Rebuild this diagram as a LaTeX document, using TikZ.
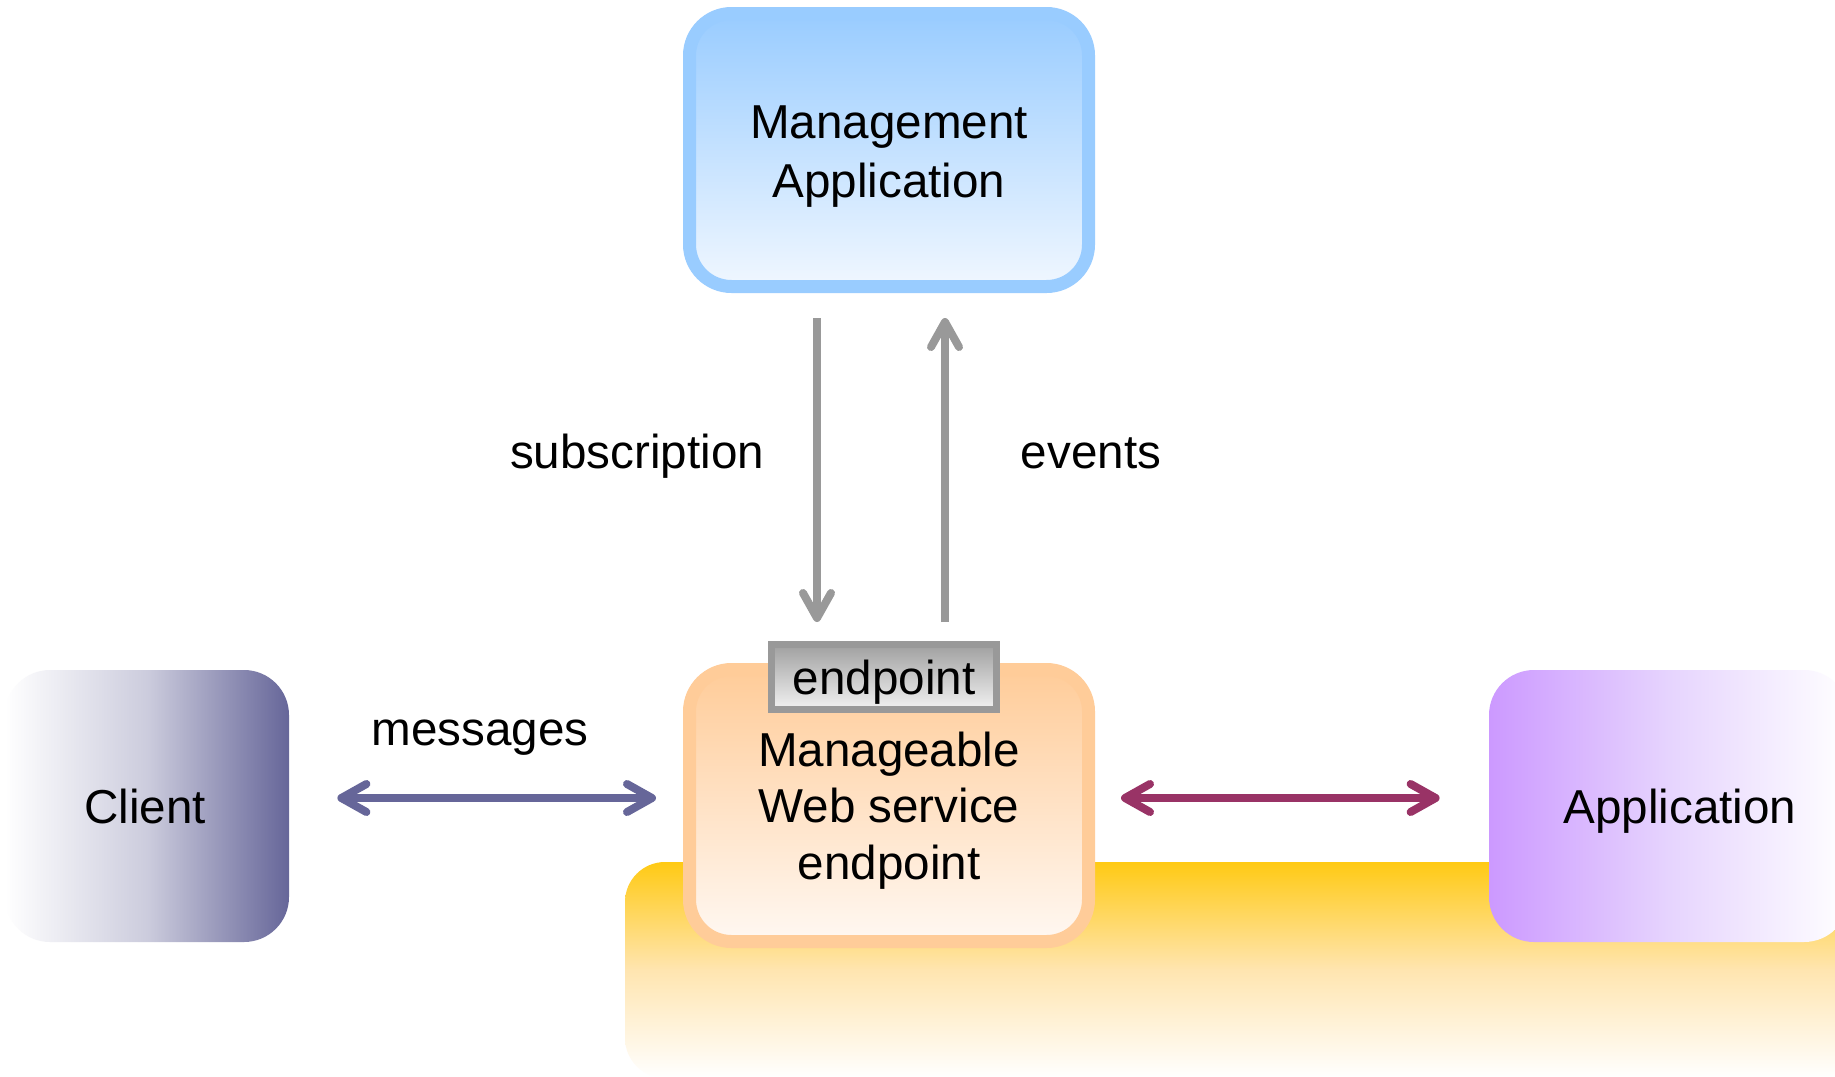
\documentclass[tikz,border=0pt]{standalone}
\usepackage{fontspec}
\setmainfont{Liberation Sans}
\usetikzlibrary{arrows.meta}

\definecolor{mgmtBorder}{HTML}{99CCFF}
\definecolor{mgmtLight}{HTML}{F0F7FF}
\definecolor{wsBorder}{HTML}{FFCC99}
\definecolor{wsLight}{HTML}{FFF8F2}
\definecolor{tabBorder}{HTML}{999999}
\definecolor{tabTop}{HTML}{A0A0A0}
\definecolor{tabBottom}{HTML}{F2F2F2}
\definecolor{clientDark}{HTML}{666699}
\definecolor{clientMid}{HTML}{CCCCDD}
\definecolor{appPurple}{HTML}{CC99FF}
\definecolor{appMid}{HTML}{E6D4FE}
\definecolor{gold}{HTML}{FFCA14}
\definecolor{goldMid}{HTML}{FFE5B0}
\definecolor{arrowGray}{HTML}{999999}
\definecolor{msgBlue}{HTML}{666699}
\definecolor{appRed}{HTML}{993366}

\tikzset{
  bigbox/.style={draw, line width=6.5pt, rounded corners=21pt,
    minimum width=199.5pt, minimum height=136.5pt, inner sep=0pt},
  sidebox/.style={rounded corners=22.5pt, minimum height=136pt, inner sep=0pt},
  txt/.style={font=\fontsize{23.8pt}{28pt}\selectfont, inner sep=0pt, anchor=base},
  barb/.tip={Straight Barb[length=12.5pt, width=14pt, round]},
  flow/.style={line width=4pt},
}

\begin{document}
\begin{tikzpicture}[x=0.5pt, y=-0.5pt]
  \useasboundingbox (0,0) rectangle (1835,1076);
  \clip (0,0) rectangle (1835,1076);
  \fill[white] (0,0) rectangle (1835,1076);

  % golden platform behind the service endpoint and the application
  \shade[rounded corners=20pt, top color=gold, bottom color=white, middle color=goldMid]
    (625,862) rectangle (1880,1078);

  % side participants
  \node[sidebox, minimum width=142pt, shade, left color=white, right color=clientDark,
        middle color=clientMid] (client) at (147,806) {};
  \node[sidebox, minimum width=180pt, shade, left color=appPurple, right color=white,
        middle color=appMid] (app) at (1669,806) {};

  % management application
  \node[bigbox, draw=mgmtBorder, shade, top color=mgmtBorder, bottom color=mgmtLight]
    (mgmt) at (889,150) {};

  % manageable web service endpoint with its endpoint tab
  \node[bigbox, minimum height=136pt, draw=wsBorder, shade, top color=wsBorder,
        bottom color=wsLight] (ws) at (889,805.5) {};
  \node[draw=tabBorder, line width=3.5pt, shade, top color=tabTop, bottom color=tabBottom,
        minimum width=112.5pt, minimum height=32.5pt, inner sep=0pt] (tab) at (884,677) {};

  % texts
  \node[txt] (mgmtA) at (889,138) {Management};
  \node[txt] (mgmtB) at (889,197) {Application};
  \node[txt] (tabT) at (884,694) {endpoint};
  \node[txt] (wsA) at (889,766) {Manageable};
  \node[txt] (wsB) at (889,822) {Web service};
  \node[txt] (wsC) at (889,879) {endpoint};
  \node[txt] (clientT) at (145,823) {Client};
  \node[txt] (appT) at (1680,823) {Application};
  \node[txt] (subT) at (637,468) {subscription};
  \node[txt] (evtT) at (1091,468) {events};
  \node[txt] (msgT) at (480,745) {messages};

  % connector positions
  \coordinate (subx) at (817,0);
  \coordinate (evtx) at (945,0);
  \coordinate (rowy) at (0,798);

  % subscription goes down, events come up
  \draw[flow, draw=arrowGray, -barb, shorten <=12.5pt, shorten >=9.5pt]
    (mgmt.south -| subx) -- (tab.north -| subx);
  \draw[flow, draw=arrowGray, -barb, shorten <=9.5pt, shorten >=12.5pt]
    (tab.north -| evtx) -- (mgmt.south -| evtx);

  % message exchanges
  \draw[flow, draw=msgBlue, barb-barb, shorten <=24pt, shorten >=13.5pt]
    (client.east |- rowy) -- (ws.west |- rowy);
  \draw[flow, draw=appRed, barb-barb, shorten <=13pt, shorten >=24.5pt]
    (ws.east |- rowy) -- (app.west |- rowy);
\end{tikzpicture}
\end{document}
